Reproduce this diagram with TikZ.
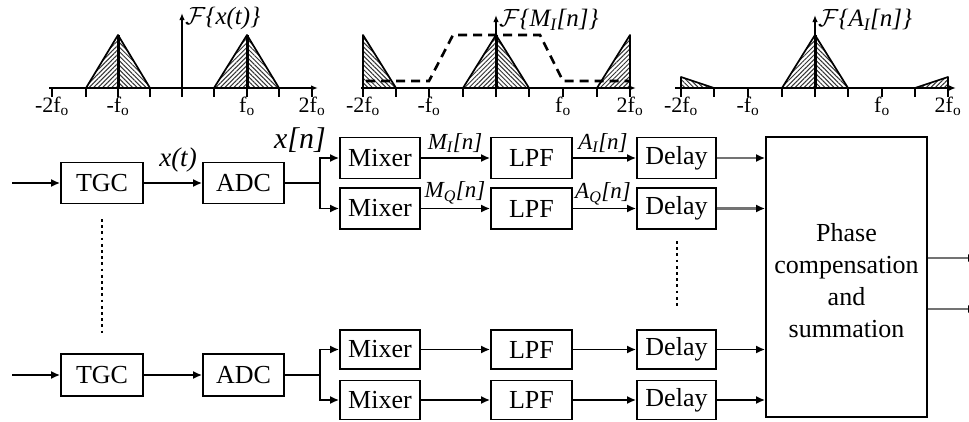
\documentclass[tikz,border=0pt]{standalone}
\usepackage{fontspec}
\setmainfont{Liberation Serif}
\usetikzlibrary{arrows.meta,patterns.meta}
\begin{document}
\begin{tikzpicture}[x=1pt,y=-1pt,
  blk/.style={draw,line width=1.7pt,minimum height=41pt,inner sep=0pt,font=\fontsize{26}{30}\selectfont},
  arr/.style={line width=1.8pt,-{Latex[length=9pt,width=8pt]}},
  garr/.style={line width=2.4pt,draw=black!55,-{Latex[length=9pt,width=8pt,color=black]}},
  sig/.style={font=\fontsize{23}{26}\selectfont\itshape,inner sep=0pt},
  tick/.style={font=\fontsize{22}{24}\selectfont,inner sep=0pt},
  ttl/.style={font=\fontsize{25}{28}\selectfont\itshape,inner sep=0pt},
  ax/.style={line width=1.6pt,-{Latex[length=7pt,width=5.5pt]}},
  tk/.style={line width=1.5pt},
  hatchL/.style={pattern={Lines[angle=45,distance=3.2pt,line width=1pt]},pattern color=black!80},
  hatchR/.style={pattern={Lines[angle=-45,distance=3.2pt,line width=1pt]},pattern color=black!80},
  edge/.style={line width=1.7pt,line join=round},
  mid/.style={line width=3pt},
  dots/.style={line width=2.8pt,dash pattern=on 2.8pt off 3.4pt},
  dsh/.style={line width=2.6pt,dash pattern=on 9pt off 6pt}
]
\useasboundingbox (0,0) rectangle (969,421);

% ---------------- spectrum 1 ----------------
\foreach \t in {52,86,118,150,214,247,279,312} \draw[tk] (\t,88) -- (\t,97);
\fill[hatchL] (86,88) -- (118,35) -- (118,88) -- cycle;
\fill[hatchR] (118,88) -- (118,35) -- (150,88) -- cycle;
\draw[edge] (86,88) -- (118,35) -- (150,88);
\draw[mid] (118,35) -- (118,88);
\fill[hatchL] (214,88) -- (247,35) -- (247,88) -- cycle;
\fill[hatchR] (247,88) -- (247,35) -- (279,88) -- cycle;
\draw[edge] (214,88) -- (247,35) -- (279,88);
\draw[mid] (247,35) -- (247,88);
\draw[ax] (49,88) -- (318,88);
\draw[ax] (182,97) -- (182,13);
\node[tick] (s1a) at (52,106) {-2f\textsubscript{o}};
\node[tick] (s1b) at (118,106) {-f\textsubscript{o}};
\node[tick] (s1c) at (247,106) {f\textsubscript{o}};
\node[tick] (s1d) at (312,106) {2f\textsubscript{o}};
\node[ttl,anchor=west] (s1t) at (185,18) {$\mathcal{F}$\{x(t)\}};

% ---------------- spectrum 2 ----------------
\foreach \t in {363,396,429,463,529,563,597,630} \draw[tk] (\t,88) -- (\t,97);
\fill[hatchR] (363,88) -- (363,35) -- (396,88) -- cycle;
\draw[edge] (363,88) -- (363,35) -- (396,88);
\fill[hatchL] (463,88) -- (496,35) -- (496,88) -- cycle;
\fill[hatchR] (496,88) -- (496,35) -- (529,88) -- cycle;
\draw[edge] (463,88) -- (496,35) -- (529,88);
\draw[mid] (496,35) -- (496,88);
\fill[hatchL] (597,88) -- (630,35) -- (630,88) -- cycle;
\draw[edge] (597,88) -- (630,35) -- (630,88);
\draw[dsh] (366,81) -- (429,81) -- (453,35) -- (540,35) -- (563,81) -- (630,81);
\draw[ax] (361,88) -- (636,88);
\draw[ax] (496,97) -- (496,15);
\node[tick] (s2a) at (363,106) {-2f\textsubscript{o}};
\node[tick] (s2b) at (429,106) {-f\textsubscript{o}};
\node[tick] (s2c) at (563,106) {f\textsubscript{o}};
\node[tick] (s2d) at (630,106) {2f\textsubscript{o}};
\node[ttl,anchor=west] (s2t) at (499,20) {$\mathcal{F}$\{M\textsubscript{\itshape I}[n]\}};

% ---------------- spectrum 3 ----------------
\foreach \t in {681,714,748,782,848,882,915,948} \draw[tk] (\t,88) -- (\t,97);
\fill[hatchR] (681,88) -- (681,77) -- (714,88) -- cycle;
\draw[edge] (681,88) -- (681,77) -- (714,88);
\fill[hatchL] (782,88) -- (815,35) -- (815,88) -- cycle;
\fill[hatchR] (815,88) -- (815,35) -- (848,88) -- cycle;
\draw[edge] (782,88) -- (815,35) -- (848,88);
\draw[mid] (815,35) -- (815,88);
\fill[hatchL] (915,88) -- (948,77) -- (948,88) -- cycle;
\draw[edge] (915,88) -- (948,77) -- (948,88);
\draw[ax] (675,88) -- (956,88);
\draw[ax] (815,97) -- (815,15);
\node[tick] (s3a) at (681,106) {-2f\textsubscript{o}};
\node[tick] (s3b) at (748,106) {-f\textsubscript{o}};
\node[tick] (s3c) at (882,106) {f\textsubscript{o}};
\node[tick] (s3d) at (948,106) {2f\textsubscript{o}};
\node[ttl,anchor=west] (s3t) at (818,20) {$\mathcal{F}$\{A\textsubscript{\itshape I}[n]\}};

% ---------------- top channel ----------------
\node[blk,minimum width=82pt] (tgc1) at (102,183) {TGC};
\node[blk,minimum width=81pt] (adc1) at (243.5,183) {ADC};
\node[blk,minimum width=80pt] (m1) at (380,158) {Mixer};
\node[blk,minimum width=80pt] (m2) at (380,208.5) {Mixer};
\node[blk,minimum width=81pt] (l1) at (531.5,158) {LPF};
\node[blk,minimum width=81pt] (l2) at (531.5,208.5) {LPF};
\node[blk,minimum width=79pt] (d1) at (676.5,158) {Delay};
\node[blk,minimum width=79pt] (d2) at (676.5,208.5) {Delay};

% ---------------- bottom channel ----------------
\node[blk,minimum width=82pt,minimum height=42pt] (tgc2) at (102,375) {TGC};
\node[blk,minimum width=81pt,minimum height=42pt] (adc2) at (243.5,375) {ADC};
\node[blk,minimum width=80pt,minimum height=39pt] (m3) at (380,349.5) {Mixer};
\node[blk,minimum width=80pt,minimum height=39pt] (m4) at (380,400) {Mixer};
\node[blk,minimum width=81pt,minimum height=39pt] (l3) at (531.5,349.5) {LPF};
\node[blk,minimum width=81pt,minimum height=39pt] (l4) at (531.5,400) {LPF};
\node[blk,minimum width=79pt,minimum height=39pt] (d3) at (676.5,349.5) {Delay};
\node[blk,minimum width=79pt,minimum height=39pt] (d4) at (676.5,400) {Delay};

% ---------------- combiner ----------------
\node[blk,minimum width=161pt,minimum height=280pt] (ph) at (846.5,277) {};
\node[align=center,inner sep=0pt,font=\fontsize{26}{32}\selectfont] (phtxt) at (846.5,281) {Phase\\compensation\\and\\summation};

% coordinates
\coordinate (in1) at (12,183);
\coordinate (in2) at (12,375);
\coordinate (j1) at (320,183);
\coordinate (j2) at (320,375);
\coordinate (o1) at (977,258);
\coordinate (o2) at (977,309);

% top connectors
\draw[arr] (in1) -- (tgc1);
\draw[arr] (tgc1) -- (adc1);
\draw[line width=1.8pt] (adc1) -- (j1);
\draw[arr] (j1) |- (m1);
\draw[arr] (j1) |- (m2);
\draw[arr] (m1) -- (l1);
\draw[arr] (m2) -- (l2);
\draw[arr] (l1) -- (d1);
\draw[arr] (l2) -- (d2);
\draw[garr] (d1) -- (d1 -| ph.west);
\draw[garr] (d2) -- (d2 -| ph.west);

% bottom connectors
\draw[arr] (in2) -- (tgc2);
\draw[arr] (tgc2) -- (adc2);
\draw[line width=1.8pt] (adc2) -- (j2);
\draw[arr] (j2) |- (m3);
\draw[arr] (j2) |- (m4);
\draw[arr] (m3) -- (l3);
\draw[arr] (m4) -- (l4);
\draw[arr] (l3) -- (d3);
\draw[arr] (l4) -- (d4);
\draw[arr] (d3) -- (d3 -| ph.west);
\draw[arr] (d4) -- (d4 -| ph.west);

% outputs
\draw[garr] (ph.east |- o1) -- (o1);
\draw[garr] (ph.east |- o2) -- (o2);

% signal labels
\node[sig,font=\fontsize{27}{30}\selectfont\itshape] (lxt) at (178,160) {x(t)};
\node[sig,font=\fontsize{30}{32}\selectfont\itshape] (lxn) at (300,140) {x[n]};
\node[sig] (lmi) at (455,143) {M\textsubscript{I}[n]};
\node[sig] (lmq) at (455,193) {M\textsubscript{Q}[n]};
\node[sig] (lai) at (603,143) {A\textsubscript{I}[n]};
\node[sig] (laq) at (603,194) {A\textsubscript{Q}[n]};

% ellipsis dots
\coordinate (e1a) at (102,219);
\coordinate (e1b) at (102,334);
\coordinate (e2a) at (677,241);
\coordinate (e2b) at (677,308);
\draw[dots] (e1a) -- (e1b);
\draw[dots] (e2a) -- (e2b);
\end{tikzpicture}
\end{document}
